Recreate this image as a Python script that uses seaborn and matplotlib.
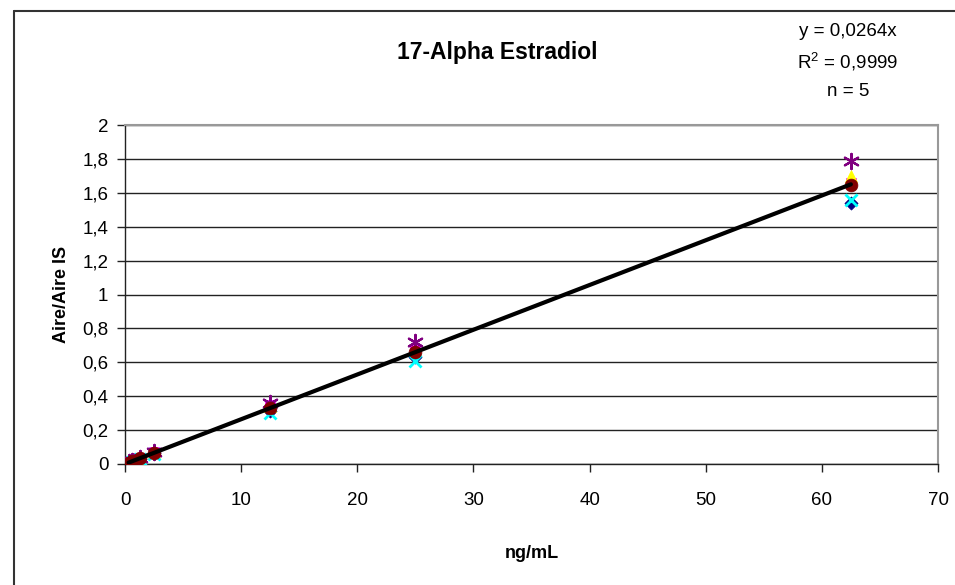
import matplotlib
matplotlib.use("Agg")
import matplotlib.pyplot as plt
import seaborn as sns
import numpy as np
import pandas as pd
from matplotlib.lines import Line2D

# ---- data ----
conc = [0.3125, 0.625, 1.25, 2.5, 12.5, 25, 62.5]
s1_diamond = [0.007, 0.015, 0.031, 0.062, 0.31, 0.63, 1.54]
s2_square = [0.010, 0.018, 0.036, 0.070, 0.35, 0.67, 1.66]
s3_triangle = [0.009, 0.017, 0.034, 0.068, 0.34, 0.67, 1.70]
s4_cross = [0.006, 0.014, 0.030, 0.060, 0.30, 0.61, 1.56]
s5_star = [0.011, 0.019, 0.037, 0.072, 0.36, 0.72, 1.79]
mean_circle = [0.0086, 0.0166, 0.0336, 0.0664, 0.332, 0.660, 1.645]
slope = 0.0264
fit_x = [0.3125, 62.5]

x_ticks = [0, 10, 20, 30, 40, 50, 60, 70]
y_ticks = [0, 0.2, 0.4, 0.6, 0.8, 1.0, 1.2, 1.4, 1.6, 1.8, 2.0]
y_tick_labels = ["0", "0,2", "0,4", "0,6", "0,8", "1", "1,2", "1,4", "1,6", "1,8", "2"]

title = "17-Alpha Estradiol"
x_label = "ng/mL"
y_label = "Aire/Aire IS"
eq_lines = ["y = 0,0264x", "R$^2$ = 0,9999", "n = 5"]

# ---- style ----
sns.set_theme(style="white")
plt.rcParams["font.family"] = ["Liberation Sans", "DejaVu Sans"]
plt.rcParams["text.color"] = "black"
plt.rcParams["axes.labelcolor"] = "black"
plt.rcParams["mathtext.fontset"] = "custom"
plt.rcParams["mathtext.rm"] = "Liberation Sans"

fig = plt.figure(figsize=(9.55, 5.85), dpi=100)
ax = fig.add_axes([125 / 955, 1 - 464 / 585, (938 - 125) / 955, (464 - 125) / 585])

series = [
    (s1_diamond, "D", "#000080", 45, None),
    (s2_square, "s", "#FF00FF", 60, None),
    (s3_triangle, "^", "#FFFF00", 75, None),
    (s4_cross, "x", "#00FFFF", 75, 2.0),
    (s5_star, (6, 2, 0), "#800080", 120, 1.6),
    (mean_circle, "o", "#800000", 85, None),
]
for vals, mk, col, size, lw in series:
    df = pd.DataFrame({"x": conc, "y": vals})
    kw = dict(data=df, x="x", y="y", marker=mk, s=size, ax=ax, zorder=3)
    if mk in ("x",) or isinstance(mk, tuple):
        sns.scatterplot(color=col, linewidth=lw, **kw)
    else:
        sns.scatterplot(color=col, edgecolor=col, linewidth=0.5, **kw)

fit_df = pd.DataFrame({"x": fit_x, "y": [slope * v for v in fit_x]})
sns.lineplot(data=fit_df, x="x", y="y", color="black", linewidth=3, ax=ax, zorder=4)

ax.set_xlim(0, 70)
ax.set_ylim(0, 2)
ax.set_xticks(x_ticks)
ax.set_xticklabels([str(v) for v in x_ticks])
ax.set_yticks(y_ticks)
ax.set_yticklabels(y_tick_labels)
ax.yaxis.grid(True, color="#222222", linewidth=1)
ax.xaxis.grid(False)
ax.set_axisbelow(True)
ax.tick_params(axis="both", which="major", direction="out", length=6, width=1,
               color="#222222", labelsize=13.5, labelcolor="black", pad=6,
               bottom=True, left=True)
ax.tick_params(axis="x", pad=14)
for side in ("left", "bottom"):
    ax.spines[side].set_color("#222222")
    ax.spines[side].set_linewidth(1)
for side in ("top", "right"):
    ax.spines[side].set_color("#999999")
    ax.spines[side].set_linewidth(1.5)

ax.set_xlabel(x_label, fontsize=13, fontweight="bold", labelpad=26, color="black")
ax.set_ylabel(y_label, fontsize=13, fontweight="bold", labelpad=9, color="black")

fig.text(497 / 955, 1 - 52 / 585, title, ha="center", va="center",
         fontsize=16.5, fontweight="bold", color="black")
for i, t in enumerate(eq_lines):
    fig.text(848 / 955, 1 - (32 + 29.5 * i) / 585, t, ha="center", va="center",
             fontsize=13.5, color="black")

# outer chart-area frame (left and top edges visible)
fig.add_artist(Line2D([14 / 955, 14 / 955], [0, 1 - 11 / 585], color="#333333", linewidth=1.5))
fig.add_artist(Line2D([14 / 955, 1], [1 - 11 / 585, 1 - 11 / 585], color="#333333", linewidth=1.5))

fig.savefig("out.png", dpi=100, facecolor="white")
